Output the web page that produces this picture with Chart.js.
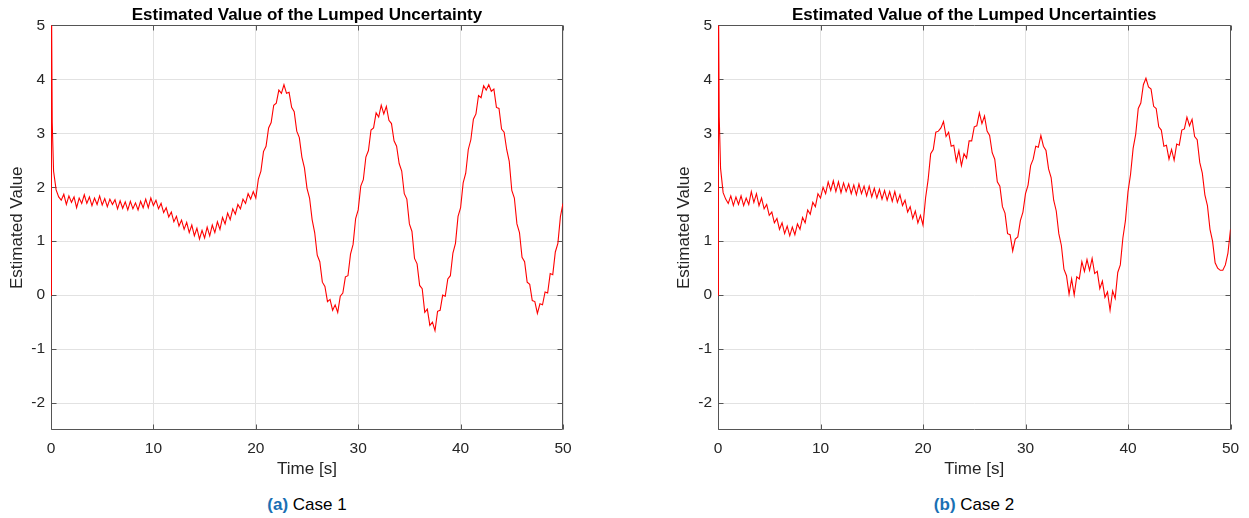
<!DOCTYPE html>
<html>
<head>
<meta charset="utf-8">
<script src="https://cdn.jsdelivr.net/npm/chart.js@4.4.0/dist/chart.umd.min.js"></script>
<style>
body { margin:0; background:#fff; width:1249px; height:518px; overflow:hidden; font-family:"Liberation Sans", Arial, sans-serif; }
.panel { position:absolute; top:0; height:490px; }
.caption { position:absolute; top:494px; font-size:17px; line-height:22px; color:#000; transform:translateX(-50%); white-space:nowrap; }
.caption b { color:#1a70b4; }
</style>
</head>
<body>
<div class="panel" style="left:0;width:600px"><canvas id="chart1" width="600" height="490"></canvas></div>
<div class="panel" style="left:660px;width:589px"><canvas id="chart2" width="589" height="490"></canvas></div>
<div class="caption" style="left:307px"><b>(a)</b> Case 1</div>
<div class="caption" style="left:974px"><b>(b)</b> Case 2</div>
<script>
// sample times: the start-up spike, then every 0.25 s up to 50 s
const time = [0, 0.04, 0.12];
for (let i = 1; i <= 200; i++) time.push(i * 0.25);

const xTicks = [0, 10, 20, 30, 40, 50];
const yTicks = [-2, -1, 0, 1, 2, 3, 4, 5];

// Case 1 - estimated lumped uncertainty
const case1 = [0, 5.8, 3.2,
  2.30, 1.95, 1.82, 1.76,  1.87, 1.68, 1.84, 1.72,  1.82, 1.62, 1.80, 1.70,
  1.86, 1.70, 1.82, 1.66,  1.80, 1.68, 1.84, 1.67,  1.79, 1.64, 1.78, 1.68,
  1.77, 1.60, 1.75, 1.61,  1.73, 1.58, 1.74, 1.60,  1.71, 1.58, 1.74, 1.62,
  1.78, 1.62, 1.80, 1.66,  1.76, 1.60, 1.70, 1.53,  1.62, 1.45, 1.54, 1.36,
  1.46, 1.28, 1.39, 1.22,  1.35, 1.16, 1.30, 1.10,  1.24, 1.04, 1.20, 1.06,
  1.26, 1.10, 1.30, 1.16,  1.36, 1.22, 1.44, 1.32,  1.52, 1.40, 1.60, 1.50,
  1.68, 1.60, 1.78, 1.70,  1.88, 1.78, 1.92, 1.80,  2.15, 2.30, 2.66, 2.76,
  3.10, 3.20, 3.52, 3.56,  3.80, 3.74, 3.90, 3.74,  3.76, 3.48, 3.40, 3.04,
  2.92, 2.56, 2.36, 1.98,  1.80, 1.40, 1.16, 0.74,  0.62, 0.24, 0.16, -0.12,
  -0.08, -0.28, -0.18, -0.32,  -0.02, 0.04, 0.34, 0.36,  0.76, 0.94, 1.42, 1.58,
  2.02, 2.14, 2.56, 2.68,  3.06, 3.10, 3.38, 3.30,  3.52, 3.36, 3.50, 3.24,
  3.18, 2.86, 2.76, 2.44,  2.30, 1.88, 1.78, 1.32,  1.18, 0.68, 0.58, 0.18,
  0.12, -0.32, -0.26, -0.56,  -0.50, -0.66, -0.30, -0.28,  0.00, -0.02, 0.30, 0.36,
  0.78, 0.96, 1.46, 1.62,  2.08, 2.26, 2.70, 2.88,  3.26, 3.36, 3.70, 3.66,
  3.88, 3.80, 3.90, 3.78,  3.82, 3.48, 3.46, 3.08,  3.02, 2.70, 2.48, 1.94,
  1.80, 1.32, 1.16, 0.70,  0.62, 0.24, 0.20, -0.10,  -0.12, -0.34, -0.16, -0.18,
  0.06, 0.04, 0.40, 0.38,  0.80, 0.96, 1.46, 1.70];

// Case 2 - estimated lumped uncertainties
const case2 = [0, 5.8, 3.3,
  2.35, 1.90, 1.78, 1.70,  1.84, 1.66, 1.82, 1.68,  1.84, 1.66, 1.80, 1.68,
  1.92, 1.72, 1.88, 1.66,  1.80, 1.60, 1.68, 1.48,  1.54, 1.34, 1.42, 1.22,
  1.34, 1.14, 1.28, 1.10,  1.26, 1.12, 1.32, 1.22,  1.44, 1.34, 1.58, 1.50,
  1.72, 1.64, 1.88, 1.80,  2.00, 1.88, 2.10, 1.94,  2.12, 1.92, 2.10, 1.90,
  2.08, 1.92, 2.06, 1.88,  2.04, 1.86, 2.06, 1.88,  2.02, 1.84, 2.02, 1.82,
  1.98, 1.80, 1.96, 1.78,  1.94, 1.76, 1.92, 1.74,  1.92, 1.72, 1.86, 1.66,
  1.76, 1.54, 1.64, 1.42,  1.56, 1.34, 1.48, 1.30,  1.80, 2.14, 2.62, 2.70,
  3.02, 3.04, 3.10, 3.22,  2.94, 3.02, 2.76, 2.78,  2.48, 2.68, 2.40, 2.62,
  2.54, 2.86, 2.86, 3.12,  3.14, 3.38, 3.18, 3.32,  3.04, 2.96, 2.64, 2.52,
  2.10, 2.02, 1.64, 1.52,  1.14, 1.12, 0.82, 1.04,  1.08, 1.38, 1.54, 1.88,
  2.04, 2.40, 2.52, 2.76,  2.74, 2.96, 2.76, 2.68,  2.34, 2.18, 1.76, 1.56,
  1.14, 0.92, 0.48, 0.36,  0.02, 0.30, 0.00, 0.34,  0.30, 0.62, 0.44, 0.66,
  0.46, 0.68, 0.40, 0.44,  0.12, 0.26, -0.04, 0.06,  -0.28, 0.08, -0.06, 0.42,
  0.56, 1.06, 1.38, 1.92,  2.24, 2.72, 2.98, 3.46,  3.56, 3.90, 4.02, 3.86,
  3.82, 3.50, 3.46, 3.12,  3.06, 2.76, 2.78, 2.52,  2.70, 2.50, 2.80, 2.78,
  3.06, 3.08, 3.30, 3.14,  3.26, 2.94, 2.88, 2.46,  2.26, 1.86, 1.66, 1.22,
  1.00, 0.60, 0.50, 0.46,  0.46, 0.56, 0.78, 1.22];

// box round the axes with inward tick marks, matlab style
const boxPlugin = {
    id: 'box',
    beforeDatasetsDraw(chart) {
        const ctx = chart.ctx;
        const a = chart.chartArea;
        const l = Math.round(a.left) + 0.5, r = Math.round(a.right) - 0.5;
        const t = Math.round(a.top) + 0.5, b = Math.round(a.bottom) - 0.5;
        ctx.save();
        ctx.strokeStyle = '#555';
        ctx.lineWidth = 1;
        ctx.beginPath();
        ctx.rect(l, t, r - l, b - t);
        xTicks.forEach(v => {
            const px = Math.round(chart.scales.x.getPixelForValue(v)) + 0.5;
            ctx.moveTo(px, b); ctx.lineTo(px, b - 5);
            ctx.moveTo(px, t); ctx.lineTo(px, t + 5);
        });
        yTicks.forEach(v => {
            const py = Math.round(chart.scales.y.getPixelForValue(v)) + 0.5;
            ctx.moveTo(l, py); ctx.lineTo(l + 5, py);
            ctx.moveTo(r, py); ctx.lineTo(r - 5, py);
        });
        ctx.stroke();
        ctx.restore();
    }
};

function makeChart(element, values, title, yWidth, yTitlePad, rightPad) {
    const points = time.map((t, i) => ({x: t, y: values[i]}));
    const font = 'Liberation Sans, Arial, sans-serif';
    return new Chart(document.getElementById(element), {
        type: 'line',
        data: {
            datasets: [{
                data: points,
                borderColor: '#ff0000',
                borderWidth: 1.1,
                pointRadius: 0,
                tension: 0
            }]
        },
        options: {
            responsive: false,
            animation: false,
            layout: { padding: { left: 0, right: rightPad, top: 0, bottom: 0 } },
            plugins: {
                legend: { display: false },
                tooltip: { enabled: false },
                title: {
                    display: true,
                    text: title,
                    fullSize: false,
                    color: '#000',
                    font: { family: font, size: 17, weight: 'bold' },
                    padding: { top: 5, bottom: 0 }
                }
            },
            scales: {
                x: {
                    type: 'linear',
                    min: 0, max: 50,
                    afterBuildTicks: s => { s.ticks = xTicks.map(v => ({value: v})); },
                    afterFit: s => { s.height = 60; },
                    grid: { color: '#e2e2e2', drawTicks: false },
                    border: { display: false },
                    ticks: { color: '#262626', padding: 9, maxRotation: 0, font: { family: font, size: 15.5 } },
                    title: { display: true, text: 'Time [s]', color: '#262626', padding: { top: 0, bottom: 10 }, font: { family: font, size: 17 } }
                },
                y: {
                    min: -2.5, max: 5,
                    afterBuildTicks: s => { s.ticks = yTicks.map(v => ({value: v})); },
                    afterFit: s => { s.width = yWidth; },
                    grid: { color: '#e2e2e2', drawTicks: false },
                    border: { display: false },
                    ticks: { color: '#262626', padding: 6, font: { family: font, size: 15.5 } },
                    title: { display: true, text: 'Estimated Value', color: '#262626', padding: { top: yTitlePad, bottom: 0 }, font: { family: font, size: 17 } }
                }
            }
        },
        plugins: [boxPlugin]
    });
}

makeChart('chart1', case1, 'Estimated Value of the Lumped Uncertainty', 51, 7, 37);
makeChart('chart2', case2, 'Estimated Value of the Lumped Uncertainties', 58, 14, 18.5);
</script>
</body>
</html>
